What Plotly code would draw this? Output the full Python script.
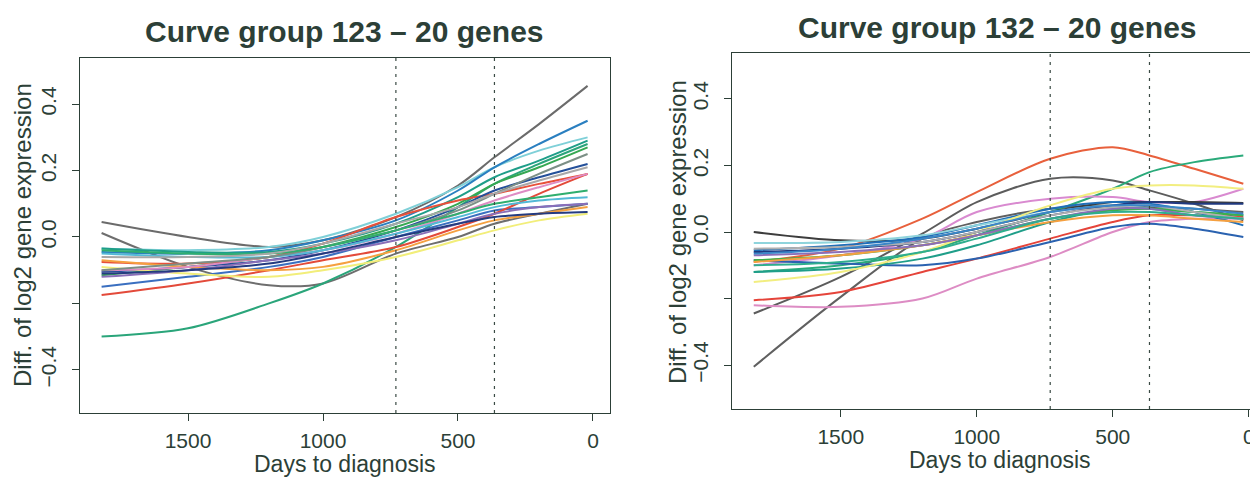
import plotly.graph_objects as go

# ---------------- data ----------------
days = [1820, 1500, 1200, 1000, 730, 500, 365, 200, 20]
vlines = [730, 365]
titles = ["Curve group 123 \u2013 20 genes", "Curve group 132 \u2013 20 genes"]
x_title = "Days to diagnosis"
y_title = "Diff. of log2 gene expression"
x_ticks = [1500, 1000, 500, 0]
y_ticks = [-0.4, -0.2, 0.0, 0.2, 0.4]
y_ticktext = ["\u22120.4", "", "0.0", "0.2", "0.4"]

# group 123 (left)
g123_colors = ["#6b6b6b", "#6e6e6e", "#2aa57a", "#7fd0d8", "#2a7fc0", "#1f9e89",
               "#36a852", "#e8503a", "#24509a", "#3a6fc0", "#e34a3a", "#f2ee7a",
               "#f5a040", "#8a6fb8", "#de8cc4", "#53b9d6", "#7c8f86", "#243b80",
               "#2fae6e", "#a8a8a8"]
g123_values = [
    [0.045, 0.00, -0.03, -0.01, 0.06, 0.155, 0.24, 0.34, 0.455],
    [0.012, -0.09, -0.145, -0.14, -0.05, 0.00, 0.04, 0.07, 0.10],
    [-0.30, -0.275, -0.20, -0.14, -0.03, 0.09, 0.16, 0.22, 0.28],
    [-0.035, -0.04, -0.03, 0.00, 0.07, 0.15, 0.21, 0.26, 0.30],
    [-0.045, -0.05, -0.04, -0.01, 0.05, 0.14, 0.21, 0.28, 0.35],
    [-0.035, -0.045, -0.045, -0.02, 0.04, 0.12, 0.18, 0.23, 0.29],
    [-0.115, -0.09, -0.06, -0.03, 0.03, 0.10, 0.16, 0.21, 0.27],
    [-0.075, -0.08, -0.06, -0.02, 0.06, 0.11, 0.13, 0.16, 0.19],
    [-0.105, -0.09, -0.07, -0.04, 0.02, 0.09, 0.14, 0.18, 0.22],
    [-0.15, -0.12, -0.09, -0.06, 0.00, 0.05, 0.08, 0.09, 0.10],
    [-0.175, -0.14, -0.10, -0.07, -0.03, 0.03, 0.07, 0.13, 0.19],
    [-0.09, -0.11, -0.12, -0.10, -0.06, -0.01, 0.02, 0.05, 0.07],
    [-0.07, -0.09, -0.10, -0.09, -0.04, 0.02, 0.05, 0.07, 0.09],
    [-0.12, -0.10, -0.07, -0.05, -0.01, 0.04, 0.07, 0.09, 0.10],
    [-0.10, -0.09, -0.06, -0.04, 0.01, 0.07, 0.11, 0.15, 0.19],
    [-0.05, -0.06, -0.06, -0.04, 0.01, 0.06, 0.09, 0.11, 0.12],
    [-0.10, -0.08, -0.06, -0.03, 0.02, 0.08, 0.13, 0.19, 0.25],
    [-0.11, -0.10, -0.08, -0.05, 0.00, 0.04, 0.06, 0.07, 0.075],
    [-0.04, -0.05, -0.05, -0.03, 0.02, 0.07, 0.10, 0.12, 0.14],
    [-0.06, -0.06, -0.05, -0.02, 0.04, 0.09, 0.13, 0.17, 0.21],
]

# group 132 (right)
g132_colors = ["#606060", "#5c5c5c", "#e8603c", "#2aaa7a", "#dd8cc4", "#d98ad0",
               "#e5443a", "#3d3d3d", "#1f6fb8", "#2a62b0", "#8fd4dc", "#1f9e89",
               "#3db04a", "#f2ee80", "#f5a040", "#203a80", "#8a6fb8", "#b0b0b0",
               "#3a86c8", "#2fae8e"]
g132_values = [
    [-0.405, -0.195, -0.02, 0.03, 0.07, 0.08, 0.075, 0.07, 0.06],
    [-0.245, -0.135, -0.005, 0.09, 0.16, 0.155, 0.125, 0.085, 0.035],
    [-0.09, -0.05, 0.04, 0.12, 0.22, 0.255, 0.23, 0.19, 0.145],
    [-0.12, -0.10, -0.06, -0.01, 0.06, 0.13, 0.18, 0.21, 0.23],
    [-0.22, -0.225, -0.20, -0.14, -0.075, 0.00, 0.03, 0.04, 0.04],
    [-0.10, -0.07, -0.02, 0.06, 0.10, 0.105, 0.09, 0.09, 0.13],
    [-0.205, -0.18, -0.12, -0.08, -0.02, 0.03, 0.05, 0.05, 0.045],
    [0.00, -0.025, -0.02, 0.01, 0.06, 0.09, 0.09, 0.09, 0.087],
    [-0.055, -0.04, -0.015, 0.02, 0.07, 0.09, 0.085, 0.06, 0.02],
    [-0.085, -0.095, -0.10, -0.08, -0.03, 0.015, 0.025, 0.01, -0.015],
    [-0.033, -0.03, -0.01, 0.02, 0.06, 0.08, 0.07, 0.05, 0.04],
    [-0.12, -0.11, -0.08, -0.04, 0.03, 0.07, 0.07, 0.06, 0.05],
    [-0.085, -0.07, -0.04, -0.01, 0.04, 0.065, 0.07, 0.06, 0.05],
    [-0.15, -0.12, -0.06, 0.00, 0.08, 0.13, 0.14, 0.14, 0.13],
    [-0.09, -0.07, -0.04, -0.01, 0.03, 0.05, 0.05, 0.04, 0.03],
    [-0.06, -0.05, -0.03, 0.00, 0.05, 0.08, 0.09, 0.085, 0.085],
    [-0.07, -0.06, -0.04, -0.01, 0.04, 0.07, 0.07, 0.05, 0.04],
    [-0.05, -0.045, -0.03, 0.00, 0.05, 0.075, 0.08, 0.06, 0.04],
    [-0.065, -0.05, -0.02, 0.01, 0.06, 0.08, 0.08, 0.07, 0.055],
    [-0.10, -0.09, -0.06, -0.02, 0.04, 0.06, 0.06, 0.05, 0.04],
]

# ---------------- figure ----------------
# the page body adds an 8px offset; the figure is sized to the visible area
OFF = 8
W, H = 1258 - OFF, 477 - OFF
INK = "#2c3f37"
FONT = "Liberation Sans, Arial, sans-serif"

fig = go.Figure()

panels = [
    dict(x="x", y="y", colors=g123_colors, values=g123_values),
    dict(x="x2", y="y2", colors=g132_colors, values=g132_values),
]
for p in panels:
    for c, v in zip(p["colors"], p["values"]):
        fig.add_trace(go.Scatter(
            x=days, y=v, xaxis=p["x"], yaxis=p["y"], mode="lines",
            line=dict(color=c, width=2, shape="spline", smoothing=0.9),
            showlegend=False, hoverinfo="skip"))

def xaxis(domain, rng, anchor):
    return dict(domain=domain, range=rng, anchor=anchor, tickvals=x_ticks,
                ticks="outside", ticklen=7, tickwidth=1, tickcolor=INK,
                showline=True, mirror=True, linecolor=INK, linewidth=1.2,
                showgrid=False, zeroline=False, automargin=False,
                ticklabelstandoff=2,
                tickfont=dict(family=FONT, size=21, color=INK))

def yaxis(domain, rng, anchor):
    return dict(domain=domain, range=rng, anchor=anchor, tickvals=y_ticks,
                ticktext=y_ticktext, tickangle=-90,
                ticks="outside", ticklen=7, tickwidth=1, tickcolor=INK,
                showline=True, mirror=True, linecolor=INK, linewidth=1.2,
                showgrid=False, zeroline=False, automargin=False,
                ticklabelstandoff=8,
                tickfont=dict(family=FONT, size=21, color=INK))

# pixel boxes in screen coordinates
L = dict(x0=80, x1=610, y0=58, y1=413)
R = dict(x0=732, x1=1258, y0=53, y1=409)

def px(xs):
    return (xs - OFF) / W

def py(ys):
    return 1 - (ys - OFF) / H

def dom_x(b):
    return [px(b["x0"]), min(1.0, px(b["x1"]))]

def dom_y(b):
    return [py(b["y1"]), py(b["y0"])]

fig.update_layout(
    width=W, height=H,
    margin=dict(l=0, r=0, t=0, b=0, autoexpand=False),
    paper_bgcolor="white", plot_bgcolor="white",
    xaxis=xaxis(dom_x(L), [1900, -63], "y"),
    yaxis=yaxis(dom_y(L), [-0.530, 0.539], "x"),
    xaxis2=xaxis(dom_x(R), [1900, -34], "y2"),
    yaxis2=yaxis(dom_y(R), [-0.532, 0.538], "x2"),
)

# dashed reference lines
for xr, yr in [("x", "y domain"), ("x2", "y2 domain")]:
    for d in vlines:
        fig.add_shape(type="line", xref=xr, yref=yr, x0=d, x1=d, y0=0, y1=1,
                      line=dict(color="#3a4a44", width=1.2, dash="3px,5px"))

# titles and axis titles
ann = [
    dict(text="<b>" + titles[0] + "</b>", x=344, y=32, size=30),
    dict(text="<b>" + titles[1] + "</b>", x=997, y=27, size=30),
    dict(text=x_title, x=345, y=464, size=23),
    dict(text=x_title, x=1000, y=460, size=23),
]
for a in ann:
    fig.add_annotation(text=a["text"], x=px(a["x"]), y=py(a["y"]), xref="paper", yref="paper",
                       showarrow=False, xanchor="center", yanchor="middle",
                       font=dict(family=FONT, size=a["size"], color=INK))
for xs, ys in [(22, 235), (677, 232)]:
    fig.add_annotation(text=y_title, x=px(xs), y=py(ys), xref="paper", yref="paper",
                       showarrow=False, textangle=-90, xanchor="center", yanchor="middle",
                       font=dict(family=FONT, size=24, color=INK))

fig.write_html("out.html")
